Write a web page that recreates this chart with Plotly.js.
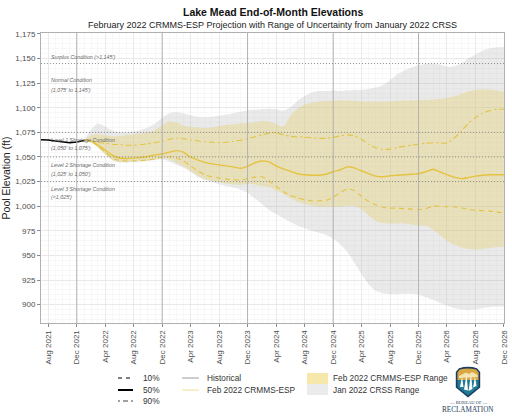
<!DOCTYPE html>
<html><head><meta charset="utf-8">
<script src="https://cdn.plot.ly/plotly-3.0.1.min.js"></script>
<style>html,body{margin:0;padding:0;background:#fff}#chart{width:512px;height:419px}</style>
</head><body><div id="chart"></div>
<script>
// ---- data (ft, end-of-month) ----
const histDates = ['2021-07','2021-08','2021-09','2021-10','2021-11','2021-12','2022-01'];
const histElev  = [1067.4,1067.2,1066.2,1065.0,1064.4,1065.2,1066.8];

const espDates = ['2022-01','2022-02','2022-03','2022-04','2022-05','2022-06','2022-07','2022-08','2022-09','2022-10','2022-11','2022-12',
'2023-01','2023-02','2023-03','2023-04','2023-05','2023-06','2023-07','2023-08','2023-09','2023-10','2023-11','2023-12',
'2024-01','2024-02','2024-03','2024-04','2024-05','2024-06','2024-07','2024-08','2024-09','2024-10','2024-11','2024-12',
'2025-01','2025-02','2025-03','2025-04','2025-05','2025-06','2025-07','2025-08','2025-09','2025-10','2025-11','2025-12',
'2026-01','2026-02','2026-03','2026-04','2026-05','2026-06','2026-07','2026-08','2026-09','2026-10','2026-11','2026-12'];

const esp50 = [1067,1066,1062,1057,1052,1049,1048.5,1049,1049.5,1050.5,1052,1053,
1055,1056.5,1055,1050,1047,1044.5,1043,1042,1041,1040,1038.5,1040.5,
1044,1046,1045,1041,1038,1035.5,1033,1032,1031.5,1031.5,1032.5,1035,
1037,1040,1039,1036,1033,1030.5,1030,1031,1031.5,1032,1032.5,1033,
1035,1037.5,1035,1032,1029.5,1028,1029,1030.5,1031.5,1032,1032,1032];

const esp10 = [1067,1066,1061,1055,1049,1046.5,1046,1046,1046.5,1047,1048,1050,
1050.5,1049,1046,1041,1036,1032,1030,1028.5,1027.5,1027,1026.5,1028,
1029.5,1030,1026,1020,1015,1011,1008.5,1006.5,1005.5,1005.5,1006,1009,
1014,1017.5,1016,1010,1005,1001.5,999,998,998,997.5,997,996.5,
997.5,1000,1000,999.5,999.5,998.5,996.5,996,995.5,995,994,993.5];

const esp90 = [1067,1066.5,1065,1064,1063,1062.5,1062,1062,1062.5,1063.5,1064.5,1066,
1068,1069,1068.5,1067.5,1066.5,1065.5,1065,1064.5,1065,1066,1067,1068.5,
1070.5,1072.5,1074,1074.5,1072.5,1071,1070.5,1070,1069.5,1069,1069,1070,
1071.5,1072.5,1071.5,1068,1063,1059.5,1057.5,1058,1059.5,1061,1062,1063,
1064,1064.5,1064.5,1064,1069,1076,1084,1090,1094.5,1097,1098.5,1098.5];

const espMax = [1067,1072,1073,1072,1071,1071,1072,1073,1074,1075,1077.5,1082,
1086,1085,1082,1080.5,1080,1079.5,1080,1081.5,1082.5,1083,1084,1084.5,
1085.5,1086.5,1086,1083.5,1081,1092,1099,1103,1105.5,1106.5,1107,1107.5,
1107.5,1107.5,1107,1106.5,1106.5,1106.5,1106.5,1106.5,1107,1107.5,1107.5,1108,
1108,1108.5,1109,1110,1111.5,1114,1116.5,1118,1118.5,1118.5,1117.5,1116.5];

const espMin = [1067,1065,1060,1053,1047,1045,1045,1045.5,1046,1046.5,1047.5,1048.5,
1047.5,1044,1040.5,1036,1031.5,1027.5,1025.5,1024.5,1023,1022,1021.5,1022.5,
1022,1020.5,1019.5,1016,1013,1008,1004.5,1002,1000.5,999.5,999.5,999.5,
999.5,1000.5,1000,997,991,985,983,982.5,982.5,982.5,981.5,980.5,
980,976,971,965,961,958,956.5,956,956.5,957.5,958.5,959];

const crssMax = [1067,1078,1084,1081,1077,1075,1075,1076,1077.5,1080,1084,1090,
1094.5,1095.5,1094.5,1092.5,1091,1090.5,1091,1092,1093,1094.5,1096,1097.5,
1098,1098.5,1099,1098.5,1097,1100.5,1107,1112,1115.5,1117,1117,1117.5,
1117,1117.5,1118,1118,1119,1120.5,1123,1128,1134,1138,1141,1143.5,
1144.5,1145,1144,1142,1142,1145,1150,1154,1158,1160.5,1161.5,1162];

const crssMin = [1067,1065,1060,1053,1047,1044.5,1044.5,1045,1045.5,1046,1047,1047.5,
1045.5,1042,1039,1035,1030,1026.5,1025,1022,1020.5,1019,1017,1013.5,
1008,1002,996.5,992,988,984,980.5,977.5,975,973,971,967,
961,953,943,931,921,914,911.5,910.5,910.5,911,911,910,
907.5,905,902,899,896.5,895,894.5,895,896.5,897.5,898,898];

const yTicks = [900,925,950,975,1000,1025,1050,1075,1100,1125,1150,1175];
const decLines = ['2021-12-01','2022-12-01','2023-12-01','2024-12-01','2025-12-01'];
const conditionLevels = [1145,1075,1050,1025];
const conditionText = [
  ["Surplus Condition (>1,145')", 1151.5],
  ["Normal Condition", 1128],
  ["(1,075' to 1,145')", 1118],
  ["Level 1 Shortage Condition", 1067],
  ["(1,050' to 1,075')", 1059],
  ["Level 2 Shortage Condition", 1041.5],
  ["(1,025' to 1,050')", 1032.5],
  ["Level 3 Shortage Condition", 1017.5],
  ["(<1,025')", 1009]
];
const titleText = 'Lake Mead End-of-Month Elevations';
const subtitleText = 'February 2022 CRMMS-ESP Projection with Range of Uncertainty from January 2022 CRSS';

// ---- layout helpers (pixel -> paper) ----
const PL=41, PR=504, PT=33, PB=323;
const px = x => (x-PL)/(PR-PL);
const py = y => (PB-y)/(PB-PT);

const FONT = 'Liberation Sans, Arial, sans-serif';
const YEL = '#e3c33f';

const traces = [
  {x: espDates, y: crssMin, type:'scatter', mode:'lines', line:{width:0, shape:'spline', smoothing:0.6}, hoverinfo:'skip', showlegend:false},
  {x: espDates, y: crssMax, type:'scatter', mode:'lines', fill:'tonexty', fillcolor:'rgba(175,175,175,0.26)', line:{width:0, shape:'spline', smoothing:0.6}, showlegend:false},
  {x: espDates, y: espMin, type:'scatter', mode:'lines', line:{width:0, shape:'spline', smoothing:0.6}, showlegend:false},
  {x: espDates, y: espMax, type:'scatter', mode:'lines', fill:'tonexty', fillcolor:'rgba(228,204,96,0.34)', line:{width:0, shape:'spline', smoothing:0.6}, showlegend:false},
  {x: espDates, y: esp10, type:'scatter', mode:'lines', line:{color:YEL, width:1.1, dash:'5px,4px', shape:'spline', smoothing:0.6}, showlegend:false},
  {x: espDates, y: esp90, type:'scatter', mode:'lines', line:{color:YEL, width:1.1, dash:'6px,3px,2px,3px', shape:'spline', smoothing:0.6}, showlegend:false},
  {x: espDates, y: esp50, type:'scatter', mode:'lines', line:{color:YEL, width:1.4, shape:'spline', smoothing:0.6}, showlegend:false},
  {x: histDates, y: histElev, type:'scatter', mode:'lines', line:{color:'#000', width:1.5}, showlegend:false}
];

const shapes = [];
decLines.forEach(d => shapes.push({type:'line', xref:'x', yref:'paper', x0:d, x1:d, y0:0, y1:1, line:{color:'#b3b3b3', width:1}, layer:'above'}));
conditionLevels.forEach(v => shapes.push({type:'line', xref:'paper', yref:'y', x0:0, x1:1, y0:v, y1:v, line:{color:'#808080', width:0.8, dash:'1px,2px'}, layer:'above'}));

// legend (drawn manually)
const legLine = (x0,x1,y,color,width,dash) => ({type:'line', xref:'paper', yref:'paper', x0:px(x0), x1:px(x1), y0:py(y), y1:py(y), line:{color, width, dash}});
shapes.push(legLine(118,133,378,'#000',1.2,'4px,4px'));
shapes.push(legLine(118,133,390,'#000',2,'solid'));
shapes.push(legLine(118,133,401,'#444',1,'2px,3px,5px,3px'));
shapes.push(legLine(182,199,378,'#9a9a9a',1,'solid'));
shapes.push(legLine(182,199,390,'#f1de93',1,'solid'));
shapes.push({type:'rect', xref:'paper', yref:'paper', x0:px(307), x1:px(328), y0:py(384), y1:py(373), fillcolor:'#f6e8ab', line:{width:0}});
shapes.push({type:'rect', xref:'paper', yref:'paper', x0:px(307), x1:px(328), y0:py(395), y1:py(384), fillcolor:'#ebebeb', line:{width:0}});

const annotations = [];
conditionText.forEach(([t,v]) => annotations.push({xref:'paper', yref:'y', x:px(49), y:v, text:'<i>'+t+'</i>', showarrow:false, xanchor:'left', yanchor:'middle', font:{family:FONT, size:5.3, color:'#6a6a6a'}}));
annotations.push({xref:'paper', yref:'paper', x:px(272.5), y:py(12), text:'<b>'+titleText+'</b>', showarrow:false, xanchor:'center', yanchor:'middle', font:{family:FONT, size:10.5, color:'#111'}});
annotations.push({xref:'paper', yref:'paper', x:px(272.5), y:py(24.5), text:subtitleText, showarrow:false, xanchor:'center', yanchor:'middle', font:{family:FONT, size:9, color:'#222'}});
const legText = (x,y,t) => annotations.push({xref:'paper', yref:'paper', x:px(x), y:py(y), text:t, showarrow:false, xanchor:'left', yanchor:'middle', font:{family:FONT, size:8.3, color:'#333'}});
legText(141,378,'10%'); legText(141,390,'50%'); legText(141,401,'90%');
legText(205,378,'Historical'); legText(205,390,'Feb 2022 CRMMS-ESP');
legText(331,378,'Feb 2022 CRMMS-ESP Range'); legText(331,390,'Jan 2022 CRSS Range');
annotations.push({xref:'paper', yref:'paper', x:px(468), y:py(402), text:'— BUREAU OF —', showarrow:false, xanchor:'center', yanchor:'middle', font:{family:'Liberation Serif, serif', size:4.6, color:'#1c3d5e'}});
annotations.push({xref:'paper', yref:'paper', x:px(468), y:py(410), text:'RECLAMATION', showarrow:false, xanchor:'center', yanchor:'middle', font:{family:'Liberation Serif, serif', size:7.2, color:'#1c3d5e'}});

const logoSvg = "<svg xmlns='http://www.w3.org/2000/svg' viewBox='0 0 26 32'>" +
 "<path d='M4,2.2 Q13,-0.6 22,2.2 L25.2,6 L25.2,21.6 L13,31.4 L0.8,21.6 L0.8,6 Z' fill='#1c3d5e'/>" +
 "<path d='M4.8,3.6 Q13,1.2 21.2,3.6 L23.6,6.6 L23.6,14 L2.4,14 L2.4,6.6 Z' fill='#d9a845'/>" +
 "<path d='M2.4,14 L23.6,14 L23.6,20.9 L13,29.4 L2.4,20.9 Z' fill='#1f7b96'/>" +
 "<path d='M4,10 L8,8 L11,6.5 L14,8 L17,6 L20,7.5 L22.5,9 L22.5,11 L4,12 Z' fill='#f3e4b0'/>" +
 "<path d='M5,21 L7,11 L8.5,21 Z M9,23.5 L11.5,9 L13,24.5 Z M13.5,25 L16,8.5 L17.5,23 Z M18,21.5 L20,10.5 L21.5,20 Z' fill='#ffffff'/>" +
 "</svg>";
const images = [{source:'data:image/svg+xml;charset=utf-8,'+encodeURIComponent(logoSvg), xref:'paper', yref:'paper', x:px(455), y:py(366), sizex:26/(PR-PL), sizey:32/(PB-PT), xanchor:'left', yanchor:'top', sizing:'stretch', layer:'above'}];

const layout = {
  width:512, height:419,
  margin:{l:PL, r:512-PR, t:PT, b:419-PB, pad:0},
  paper_bgcolor:'#fff', plot_bgcolor:'#fff',
  font:{family:FONT, color:'#4d4d4d'},
  showlegend:false,
  xaxis:{type:'date', range:['2021-07-01','2026-12-01 06:00'], tick0:'2021-08-01', dtick:'M4', tickformat:'%b %Y', tickangle:-90,
    tickfont:{family:FONT, size:8, color:'#4d4d4d'}, ticks:'outside', ticklen:3, tickcolor:'#8a8a8a',
    showgrid:true, gridcolor:'#e2e2e2', gridwidth:0.7,
    minor:{dtick:'M1', tick0:'2021-08-01', showgrid:true, gridcolor:'#f1f1f1', gridwidth:0.5},
    showline:true, linecolor:'#b0b0b0', linewidth:1, mirror:true, zeroline:false, automargin:false},
  yaxis:{range:[881.3,1176], tickvals:yTicks, tickformat:',d', tickfont:{family:FONT, size:8, color:'#4d4d4d'},
    ticks:'outside', ticklen:3, tickcolor:'#8a8a8a',
    showgrid:true, gridcolor:'#e2e2e2', gridwidth:0.7,
    minor:{dtick:5, tick0:900, showgrid:true, gridcolor:'#f1f1f1', gridwidth:0.5},
    showline:true, linecolor:'#b0b0b0', linewidth:1, mirror:true, zeroline:false, automargin:false,
    title:{text:'Pool Elevation (ft)', font:{family:FONT, size:10.5, color:'#222'}, standoff:8}},
  shapes, annotations, images
};

Plotly.newPlot('chart', traces, layout, {staticPlot:true, displayModeBar:false});
</script></body></html>
